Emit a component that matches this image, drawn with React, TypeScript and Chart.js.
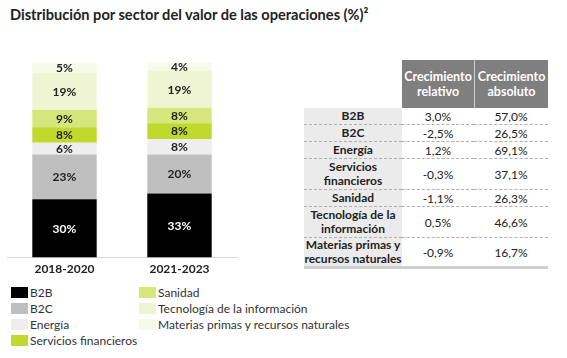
import React, { useEffect, useRef } from "react";
import { Chart, registerables } from "chart.js";

Chart.register(...registerables);

const TITLE = "Distribución por sector del valor de las operaciones (%)²";
const periods = ["2018-2020", "2021-2023"];
const sectors = [
  "B2B",
  "B2C",
  "Energía",
  "Servicios financieros",
  "Sanidad",
  "Tecnología de la información",
  "Materias primas y recursos naturales",
];
const b2b = [30, 33];
const b2c = [23, 20];
const energia = [6, 8];
const servFin = [8, 8];
const sanidad = [9, 8];
const tecnologia = [19, 19];
const materias = [5, 4];
const seriesValues = [b2b, b2c, energia, servFin, sanidad, tecnologia, materias];
const sectorColors = ["#000000", "#bfbfbf", "#eeeeee", "#bfd92c", "#d5e67a", "#eff5d3", "#f6fbe9"];
const labelColors = ["#ffffff", "#222222", "#222222", "#222222", "#222222", "#222222", "#222222"];

const tableHeaders = ["Crecimiento relativo", "Crecimiento absoluto"];
const tableRows = [
  ["B2B"],
  ["B2C"],
  ["Energía"],
  ["Servicios", "financieros"],
  ["Sanidad"],
  ["Tecnología de la", "información"],
  ["Materias primas y", "recursos naturales"],
];
const relativeGrowth = ["3,0%", "-2,5%", "1,2%", "-0,3%", "-1,1%", "0,5%", "-0,9%"];
const absoluteGrowth = ["57,0%", "26,5%", "69,1%", "37,1%", "26,3%", "46,6%", "16,7%"];

const FONT = "Lato, 'Noto Sans', sans-serif";

const labelPlugin = {
  id: "segLabels",
  afterDatasetsDraw(chart: any) {
    const ctx = chart.ctx;
    ctx.save();
    ctx.font = "bold 12px " + FONT;
    ctx.textAlign = "center";
    ctx.textBaseline = "middle";
    chart.data.datasets.forEach((ds: any, di: number) => {
      const meta = chart.getDatasetMeta(di);
      meta.data.forEach((el: any, i: number) => {
        const v = ds.data[i];
        const y = (el.y + el.base) / 2;
        ctx.fillStyle = labelColors[di];
        ctx.fillText(v + "%", el.x, y + 0.5);
      });
    });
    ctx.restore();
  },
};

function BarChart() {
  const ref = useRef<HTMLCanvasElement>(null);
  useEffect(() => {
    if (!ref.current) return;
    const chart = new Chart(ref.current, {
      type: "bar",
      data: {
        labels: periods,
        datasets: sectors.map((s, i) => ({
          label: s,
          data: seriesValues[i],
          backgroundColor: sectorColors[i],
          borderWidth: 0,
          barPercentage: 0.56,
          categoryPercentage: 1,
        })),
      },
      options: {
        animation: false,
        responsive: false,
        maintainAspectRatio: false,
        layout: { padding: { left: 7, right: 8, top: 13, bottom: 0 } },
        plugins: { legend: { display: false }, tooltip: { enabled: false } },
        scales: {
          x: {
            stacked: true,
            grid: { display: false, drawTicks: false },
            border: { display: true, color: "#d9d9d9", width: 1 },
            ticks: { color: "#222", font: { family: FONT, size: 12, weight: "bold" }, padding: 4 },
          },
          y: { stacked: true, display: false, min: 0, max: 100 },
        },
      },
      plugins: [labelPlugin],
    });
    return () => chart.destroy();
  }, []);
  return (
    <canvas
      ref={ref}
      width={245}
      height={230}
      style={{ position: "absolute", left: 0, top: 50, width: 245, height: 230 }}
    />
  );
}

export default function App() {
  const legendCol1 = [0, 1, 2, 3];
  const legendCol2 = [4, 5, 6];
  const legendItem = (i: number, x: number, row: number) => (
    <div
      key={i}
      style={{ position: "absolute", left: x, top: 284 + row * 16, height: 16, display: "flex", alignItems: "center" }}
    >
      <span style={{ display: "inline-block", width: 17, height: 11, background: sectorColors[i], marginRight: 2 }} />
      <span style={{ fontSize: 12, color: "#333", whiteSpace: "nowrap" }}>{sectors[i]}</span>
    </div>
  );
  const rowHeights = tableRows.map((r) => (r.length > 1 ? 31 : 17));
  return (
    <div
      style={{ position: "fixed", left: 0, top: 0, width: 567, height: 358, background: "#fff", fontFamily: FONT, overflow: "hidden" }}
    >
      <div style={{ position: "absolute", left: 10, top: 6, fontSize: 14.6, fontWeight: 700, color: "#222", whiteSpace: "nowrap" }}>
        {TITLE}
      </div>
      <BarChart />
      {legendCol1.map((i, r) => legendItem(i, 11, r))}
      {legendCol2.map((i, r) => legendItem(i, 139, r))}
      <table
        style={{
          position: "absolute",
          left: 304,
          top: 60,
          borderCollapse: "separate",
          borderSpacing: 0,
          fontSize: 12,
          color: "#222",
          tableLayout: "fixed",
          width: 244,
        }}
      >
        <colgroup>
          <col style={{ width: 98 }} />
          <col style={{ width: 72 }} />
          <col style={{ width: 74 }} />
        </colgroup>
        <thead>
          <tr style={{ height: 48 }}>
            <th style={{ padding: 0 }} />
            {tableHeaders.map((h, i) => (
              <th
                key={i}
                style={{
                  background: "#7f7f7f",
                  color: "#fff",
                  fontWeight: 700,
                  fontSize: 12.5,
                  lineHeight: "15px",
                  padding: "9px 0 0 0",
                  verticalAlign: "top",
                  borderLeft: i === 1 ? "1px solid #d0d0d0" : "none",
                  textAlign: "center",
                }}
              >
                {h.split(" ")[0]}
                <br />
                {h.split(" ")[1]}
              </th>
            ))}
          </tr>
        </thead>
        <tbody>
          {tableRows.map((r, i) => {
            const last = i === tableRows.length - 1;
            const bb = last ? "3px solid #cfcfcf" : "1px dashed #b0b0b0";
            return (
              <tr key={i} style={{ height: rowHeights[i] }}>
                <td
                  style={{
                    background: "#ebebeb",
                    fontWeight: 700,
                    textAlign: "center",
                    lineHeight: "14px",
                    padding: 0,
                    borderBottom: bb,
                  }}
                >
                  {r.map((t, k) => (
                    <React.Fragment key={k}>
                      {k > 0 && <br />}
                      {t}
                    </React.Fragment>
                  ))}
                </td>
                <td style={{ textAlign: "center", padding: 0, borderBottom: bb }}>{relativeGrowth[i]}</td>
                <td style={{ textAlign: "center", padding: 0, borderBottom: bb }}>{absoluteGrowth[i]}</td>
              </tr>
            );
          })}
        </tbody>
      </table>
    </div>
  );
}
